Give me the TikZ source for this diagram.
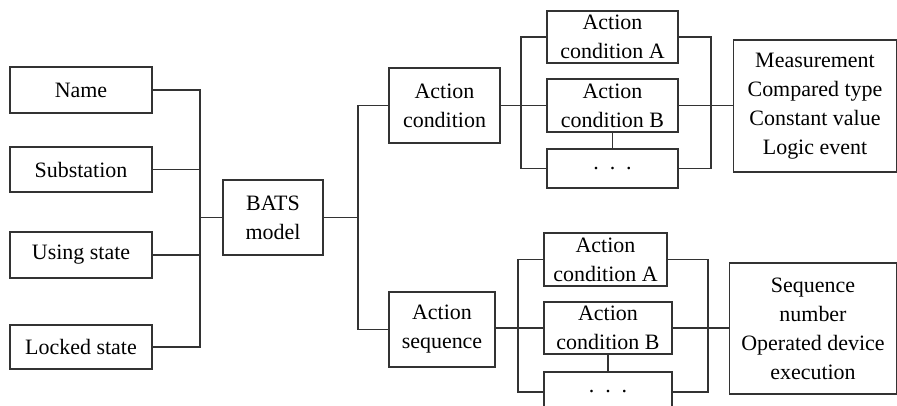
\documentclass[tikz,border=0pt]{standalone}
\usepackage{fontspec}
\setmainfont{Liberation Serif}
\usepackage{tikz}
\usetikzlibrary{calc}

\begin{document}
\begin{tikzpicture}[x=0.02cm,y=-0.02cm]

\tikzstyle{box} = [draw=black!80,line width=0.7pt,inner sep=0,outer sep=0,
    align=center,font=\rmfamily\fontsize{12.5}{16.5}\selectfont]
\tikzstyle{attr} = [box,minimum width=2.84cm]
\tikzstyle{cond} = [box,minimum height=1.5cm]
\tikzstyle{link} = [draw=black!80,line width=0.7pt]

\useasboundingbox (0,0) rectangle (897,406);

% =========================
% attributes - left column
% =========================
\node[attr,minimum height=0.92cm] (name) at (81,90) {Name};
\node[attr,minimum height=0.90cm] (sub) at (81,169.5) {Substation};
\node[attr,minimum height=0.92cm] (using) at (81,255) {Using state};
\node[attr,minimum height=0.88cm] (locked) at (81,347) {Locked state};

% =========================
% model and its two parts
% =========================
\node[cond,minimum width=2.0cm] (bats) at (273,217.5) {BATS\\model};
\node[cond,minimum width=2.22cm] (acond) at (444.5,105.5) {Action\\condition};
\node[cond,minimum width=2.12cm] (aseq) at (442,329.5) {Action\\sequence};

% =========================
% conditions - upper group
% =========================
\node[box,minimum width=2.62cm,minimum height=1.04cm] (ca1) at (612.5,37) {Action\\condition A};
\node[box,minimum width=2.62cm,minimum height=1.06cm] (cb1) at (612.5,105.5) {Action\\condition B};
\node[box,minimum width=2.62cm,minimum height=0.78cm] (cd1) at (612.5,168.5) {.\ \ .\ \ .};
\node[box,minimum width=3.26cm,minimum height=2.64cm] (meas) at (815,106)
    {Measurement\\Compared type\\Constant value\\Logic event};

% =========================
% conditions - lower group
% =========================
\node[box,minimum width=2.46cm,minimum height=1.06cm] (ca2) at (605.5,259.5) {Action\\condition A};
\node[box,minimum width=2.56cm,minimum height=1.04cm] (cb2) at (608,328) {Action\\condition B};
\node[box,minimum width=2.56cm,minimum height=0.8cm] (cd2) at (608,392) {.\ \ .\ \ .};
\node[box,minimum width=3.34cm,minimum height=2.62cm] (seq) at (813,328.5)
    {Sequence\\number\\Operated device\\execution};

% =========================
% connectors
% =========================
\coordinate (jl) at (200,217.5);
\coordinate (jr) at (358,217.5);
\draw[link] (name.east) -| (jl) -- (bats.west);
\draw[link] (locked.east) -| (jl);
\draw[link] (sub.east) -- (sub.east -| jl);
\draw[link] (using.east) -- (using.east -| jl);
\draw[link] (bats.east) -- (jr) |- (acond.west);
\draw[link] (jr) |- (aseq.west);

\coordinate (tl) at (521,105.5);
\coordinate (tr) at (711,105.5);
\draw[link] (acond.east) -- (cb1.west);
\draw[link] (ca1.west) -| (tl) |- (cd1.west);
\draw[link] (cb1.east) -- (meas.west |- cb1.east);
\draw[link] (ca1.east) -| (tr) |- (cd1.east);
\draw[link] (cb1.south) -- (cd1.north);

\coordinate (bl) at (518,328);
\coordinate (br) at (708,328);
\draw[link] (aseq.east |- cb2.west) -- (cb2.west);
\draw[link] (ca2.west) -| (bl) |- (cd2.west);
\draw[link] (cb2.east) -- (seq.west |- cb2.east);
\draw[link] (ca2.east) -| (br) |- (cd2.east);
\draw[link] (cb2.south) -- (cd2.north);

\end{tikzpicture}
\end{document}
